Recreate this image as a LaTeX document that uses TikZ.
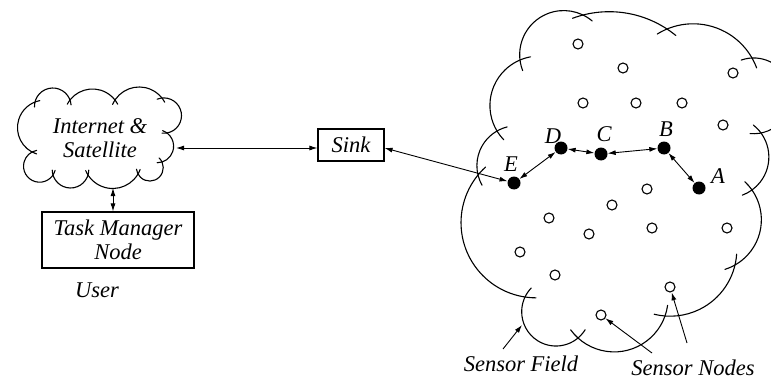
\documentclass[tikz,border=0pt]{standalone}
\usepackage{fontspec}
\setmainfont{Liberation Serif}
\usetikzlibrary{arrows.meta,calc}

% One lobe of a cloud outline: a circular arc from (#1,#2) to (#3,#4)
% (pixel coordinates, y measured downwards), bulging outwards by #5,
% drawn clockwise and carried #6 beyond both ends so neighbouring
% lobes cross each other.
\newcommand\fluffarc[6]{%
  \pgfmathsetmacro\fAx{#1/10}\pgfmathsetmacro\fAy{(381-#2)/10}%
  \pgfmathsetmacro\fBx{#3/10}\pgfmathsetmacro\fBy{(381-#4)/10}%
  \pgfmathsetmacro\fSg{#5/10}%
  \pgfmathsetmacro\fCh{veclen(\fBx-\fAx,\fBy-\fAy)}%
  \pgfmathsetmacro\fR{\fCh*\fCh/(8*\fSg)+\fSg/2}%
  \pgfmathsetmacro\fUx{(\fBx-\fAx)/\fCh}%
  \pgfmathsetmacro\fUy{(\fBy-\fAy)/\fCh}%
  \pgfmathsetmacro\fCx{(\fAx+\fBx)/2+\fUy*(\fR-\fSg)}%
  \pgfmathsetmacro\fCy{(\fAy+\fBy)/2-\fUx*(\fR-\fSg)}%
  \pgfmathsetmacro\fSt{atan2(\fAy-\fCy,\fAx-\fCx)}%
  \pgfmathsetmacro\fEn{atan2(\fBy-\fCy,\fBx-\fCx)}%
  \pgfmathsetmacro\fEn{\fEn>\fSt ? \fEn-360 : \fEn}%
  \pgfmathsetmacro\fEx{(#6/10)/\fR*57.29578}%
  \pgfmathsetmacro\fSt{\fSt+\fEx}%
  \pgfmathsetmacro\fEn{\fEn-\fEx}%
  \draw[cloudline,x=10pt,y=10pt] (\fCx,\fCy) ++(\fSt:\fR)
    arc[start angle=\fSt, end angle=\fEn, radius=\fR];%
}

\begin{document}
\begin{tikzpicture}[x=1pt,y=1pt,
  cloudline/.style={line width=1.1pt,line cap=round},
  txt/.style={font=\itshape\fontsize{22.5}{24}\selectfont,inner sep=0pt,align=center},
  boxnode/.style={txt,draw,line width=1.1pt},
  relay/.style={circle,fill=black,minimum size=13pt,inner sep=0pt},
  sensor/.style={circle,draw,line width=1.1pt,minimum size=10pt,inner sep=0pt},
  both/.style={{Latex[length=8pt,width=5pt]}-{Latex[length=8pt,width=5pt]},line width=0.9pt},
  pointer/.style={-{Latex[length=8pt,width=5pt]},line width=0.9pt}]

\useasboundingbox (0,0) rectangle (771,381);
\clip (0,0) rectangle (771,381);

% ---- Internet & Satellite cloud ----
\fluffarc{35}{102}{70}{100}{13}{5}
\fluffarc{70}{100}{115}{100}{11}{5}
\fluffarc{115}{100}{162}{98}{12}{5}
\fluffarc{162}{98}{167}{133}{17}{5}
\fluffarc{167}{133}{162}{162}{9}{5}
\fluffarc{162}{162}{138}{174}{13}{5}
\fluffarc{138}{174}{88}{175}{14}{5}
\fluffarc{88}{175}{53}{175}{13}{5}
\fluffarc{53}{175}{32}{152}{20}{5}
\fluffarc{32}{152}{35}{102}{16}{5}
\node[txt] (inet) at (100,243) {Internet \&\\Satellite};
\coordinate (inetE) at (176,233);
\coordinate (inetS) at (113,193);

% ---- user side ----
\node[boxnode,minimum width=152pt,minimum height=56pt] (tm) at (118,141)
  {Task Manager\\Node};
\node[txt] (user) at (97,91) {User};
\node[boxnode,minimum width=66pt,minimum height=32pt] (sink) at (351,236) {Sink};

% ---- sensor field outline ----
\fluffarc{520}{60}{583}{15}{23}{11}
\fluffarc{583}{15}{667}{29}{9}{11}
\fluffarc{667}{29}{752}{58}{17}{11}
\fluffarc{752}{58}{761}{133}{35}{11}
\fluffarc{761}{133}{752}{190}{12}{11}
\fluffarc{752}{190}{735}{265}{17}{11}
\fluffarc{735}{265}{665}{316}{16}{11}
\fluffarc{665}{316}{578}{338}{24}{11}
\fluffarc{578}{338}{525}{297}{27}{11}
\fluffarc{525}{297}{478}{175}{38}{11}
\fluffarc{478}{175}{497}{131}{8}{11}
\fluffarc{497}{131}{520}{60}{17}{11}
\coordinate (fieldedge) at (522,56);

% ---- sensor nodes ----
\foreach \n/\x/\y in {1/578/337,2/623/313,3/733/308,4/583/278,5/636/278,
    6/682/278,7/723/256,8/647/192,9/612/176,10/549/163,11/589/147,
    12/652/153,13/727/153,14/520/129,15/555/106,16/670/94,17/601/66}
  \node[sensor] (s\n) at (\x,\y) {};

% ---- relay path ----
\node[relay] (E) at (514,198) {};
\node[relay] (D) at (561,233) {};
\node[relay] (C) at (601,227) {};
\node[relay] (B) at (664,233) {};
\node[relay] (A) at (699,193) {};
\node[txt] (lE) at (511,217) {E};
\node[txt] (lD) at (553,245) {D};
\node[txt] (lC) at (604,247) {C};
\node[txt] (lB) at (666,252) {B};
\node[txt] (lA) at (718,205) {A};

% ---- connectors ----
\draw[both] (inetS) -- (inetS |- tm.north);
\draw[both] (inetE) -- (inetE -| sink.west);
\draw[both] ([yshift=-3pt]sink.east) -- (E);
\draw[both] (E) -- (D);
\draw[both] (D) -- (C);
\draw[both] (C) -- (B);
\draw[both] (B) -- (A);

% ---- captions ----
\node[txt] (field) at (521,17) {Sensor Field};
\node[txt] (nodes) at (693,13) {Sensor Nodes};
\coordinate (fp) at (503,32);
\coordinate (np1) at (687,38);
\coordinate (np2) at (652,28);
\draw[pointer] (fp) -- (fieldedge);
\draw[pointer] (np1) -- (s16);
\draw[pointer] (np2) -- (s17);
\end{tikzpicture}
\end{document}
